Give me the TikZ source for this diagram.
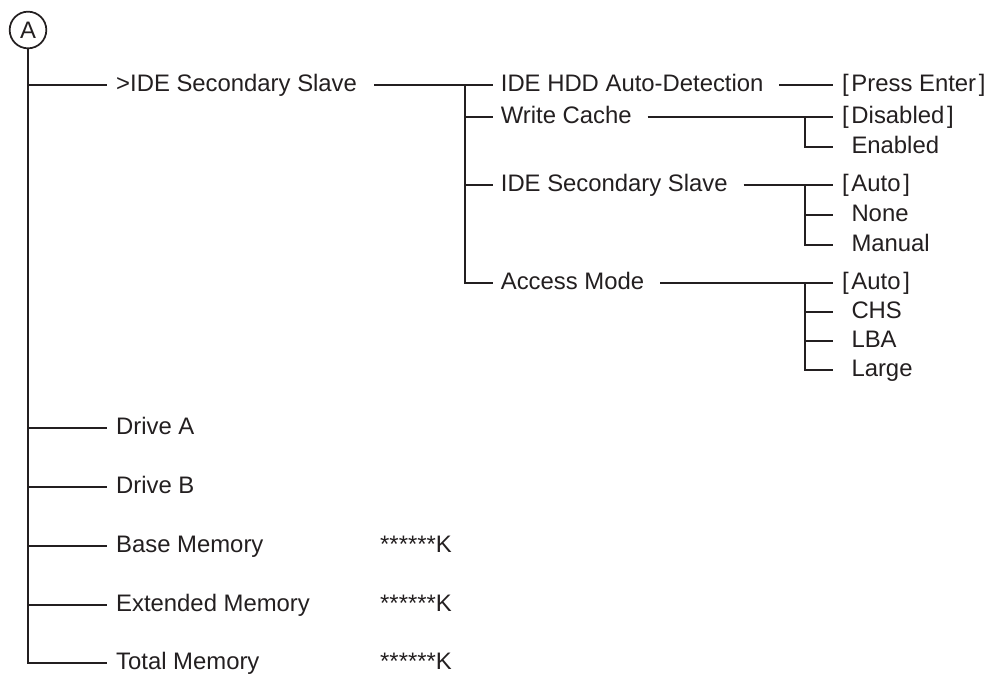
\documentclass[tikz,border=0pt]{standalone}
\usepackage{fontspec}
\setmainfont{Liberation Sans}
\definecolor{ink}{HTML}{231F20}
\newcommand{\optdef}[1]{[\kern2pt#1\kern2pt]}
\newcommand{\optalt}[1]{\phantom{[}\kern2pt#1}
\begin{document}
\begin{tikzpicture}[
    x=0.75pt, y=-0.75pt,
    color=ink, line width=1.8pt,
    font=\fontsize{17.9}{21}\selectfont,
    item/.style={anchor=west, inner xsep=6pt, inner ysep=0pt, text height=12.8pt, text depth=3pt},
    lead/.style={shorten <=6pt},
    tag/.style={circle, draw, line width=1.3pt, minimum size=27.5pt, inner sep=0pt}
]
\useasboundingbox (0,0) rectangle (998,675);

% top level
\node[tag] (root) at (28,30) {A};
\node[item] (ideslave) at (107,85) {>IDE Secondary Slave};
\node[item] (drivea) at (107,428) {Drive A};
\node[item] (driveb) at (107,487) {Drive B};
\node[item] (basemem) at (107,546) {Base Memory};
\node[item] (extmem) at (107,605) {Extended Memory};
\node[item] (totalmem) at (107,663) {Total Memory};
\node[item] (basek) at (371,546) {******K};
\node[item] (extk) at (371,605) {******K};
\node[item] (totalk) at (371,663) {******K};

% second level
\coordinate (fork) at (465,85);
\node[item, inner xsep=5pt] (hddauto) at (493,85) {IDE HDD Auto-Detection};
\node[item, inner xsep=5pt] (wcache) at (493,117) {Write Cache};
\node[item, inner xsep=5pt] (ideslave2) at (493,185) {IDE Secondary Slave};
\node[item, inner xsep=5pt] (accmode) at (493,283) {Access Mode};

% options
\node[item] (pressenter) at (833,85) {\optdef{Press Enter}};
\node[item] (disabled) at (833,117) {\optdef{Disabled}};
\node[item] (enabled) at (833,147) {\optalt{Enabled}};
\node[item] (autoa) at (833,185) {\optdef{Auto}};
\node[item] (none) at (833,215) {\optalt{None}};
\node[item] (manual) at (833,245) {\optalt{Manual}};
\node[item] (autob) at (833,283) {\optdef{Auto}};
\node[item] (chs) at (833,312) {\optalt{CHS}};
\node[item] (lba) at (833,341) {\optalt{LBA}};
\node[item] (large) at (833,370) {\optalt{Large}};
\coordinate (wcfork) at (805,117);
\coordinate (isfork) at (805,185);
\coordinate (amfork) at (805,283);

% main spine
\draw (root.south) |- (totalmem.west);
\draw (root.south |- ideslave.west) -- (ideslave.west);
\draw (root.south |- drivea.west) -- (drivea.west);
\draw (root.south |- driveb.west) -- (driveb.west);
\draw (root.south |- basemem.west) -- (basemem.west);
\draw (root.south |- extmem.west) -- (extmem.west);

% sub spine
\draw[lead] (ideslave.east) -- (hddauto.west);
\draw (fork) |- (accmode.west);
\draw (fork |- wcache.west) -- (wcache.west);
\draw (fork |- ideslave2.west) -- (ideslave2.west);

% option forks
\draw[lead] (hddauto.east) -- (pressenter.west);
\draw[lead] (wcache.east) -- (disabled.west);
\draw (wcfork) |- (enabled.west);
\draw[lead] (ideslave2.east) -- (autoa.west);
\draw (isfork) |- (manual.west);
\draw (isfork |- none.west) -- (none.west);
\draw[lead] (accmode.east) -- (autob.west);
\draw (amfork) |- (large.west);
\draw (amfork |- chs.west) -- (chs.west);
\draw (amfork |- lba.west) -- (lba.west);
\end{tikzpicture}
\end{document}
